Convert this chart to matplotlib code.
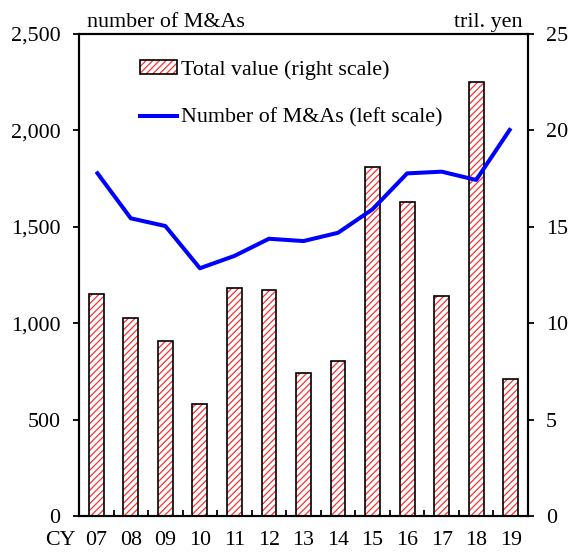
import numpy as np
import matplotlib
matplotlib.use('Agg')
import matplotlib.pyplot as plt
from matplotlib.patches import Patch
from matplotlib.lines import Line2D
from matplotlib.ticker import FuncFormatter, MultipleLocator, FixedLocator

# data
years = ['07', '08', '09', '10', '11', '12', '13', '14', '15', '16', '17', '18', '19']
total_value = [11.5, 10.25, 9.1, 5.8, 11.8, 11.7, 7.4, 8.05, 18.1, 16.3, 11.4, 22.5, 7.1]
num_deals = [1786, 1544, 1504, 1285, 1349, 1438, 1426, 1469, 1591, 1777, 1786, 1743, 2011]

plt.rcParams['font.family'] = ['Liberation Serif', 'DejaVu Serif']
plt.rcParams['font.size'] = 15.8
plt.rcParams['hatch.linewidth'] = 0.9

fig = plt.figure(figsize=(5.7, 5.52), dpi=100)
ax = fig.add_axes([79 / 570, 36 / 552, 449 / 570, 482 / 552])
ax2 = ax.twinx()

x = np.arange(len(years))

# bars on the right scale: red hatch, black outline drawn on top
ax2.bar(x, total_value, width=0.43, color='white', edgecolor='#ff3030',
        hatch='/////', linewidth=0, zorder=1)
ax2.bar(x, total_value, width=0.43, fill=False, edgecolor='black',
        linewidth=1.2, zorder=2)
ax2.set_ylim(0, 25)
ax2.yaxis.set_major_locator(MultipleLocator(5))

# line on the left scale, drawn above the bars
ax.set_zorder(ax2.get_zorder() + 1)
ax.patch.set_visible(False)
ax.plot(x, num_deals, color='#0000ff', lw=2.9, solid_capstyle='butt', zorder=3)
ax.set_ylim(0, 2500)
ax.yaxis.set_major_locator(MultipleLocator(500))
ax.yaxis.set_major_formatter(FuncFormatter(lambda v, p: f'{int(v):,}'))

ax.set_xlim(-0.5, len(years) - 0.5)
ax.set_xticks(x)
ax.set_xticklabels(years)
ax.xaxis.set_minor_locator(FixedLocator(x[:-1] + 0.5))
ax.tick_params(axis='x', which='major', length=0, pad=11)
ax.tick_params(axis='x', which='minor', direction='in', length=4, width=1.3)
ax.tick_params(axis='y', direction='out', length=4.3, width=1.3, pad=9)
ax2.tick_params(axis='y', direction='out', length=4, width=1.3, pad=9)

for a in (ax, ax2):
    for s in a.spines.values():
        s.set_linewidth(1.5)

ax.annotate('CY', xy=(-1.05, 0), xycoords=('data', 'axes fraction'),
            xytext=(0, -11), textcoords='offset points', ha='center', va='top')
ax.text(0.018, 1.005, 'number of M&As', transform=ax.transAxes,
        ha='left', va='bottom')
ax.text(0.987, 1.005, 'tril. yen', transform=ax.transAxes,
        ha='right', va='bottom')

h_bar = (Patch(facecolor='white', edgecolor='#ff3030', hatch='/////', linewidth=0),
         Patch(fill=False, edgecolor='black', linewidth=1.2))
h_line = Line2D([], [], color='#0000ff', lw=2.9)
fig.legend([h_bar, h_line], ['Total value (right scale)', 'Number of M&As (left scale)'],
           loc='upper left', bbox_to_anchor=(140 / 570, 1 - 60 / 552),
           frameon=False, borderpad=0, borderaxespad=0, handlelength=1.7,
           handleheight=0.6, handletextpad=0.15, labelspacing=1.3)

fig.savefig('out.png', dpi=100)
